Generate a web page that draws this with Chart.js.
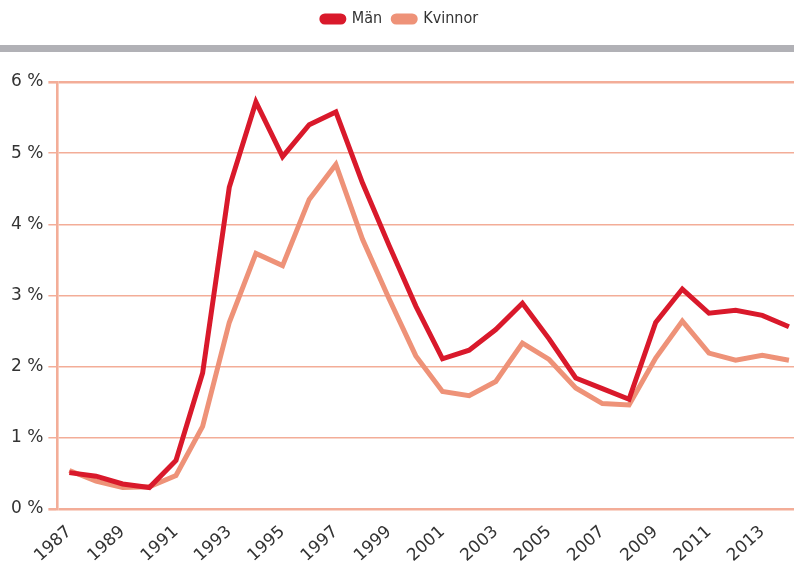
<!DOCTYPE html>
<html lang="sv">
<head>
<meta charset="utf-8">
<title>Män och kvinnor</title>
<script src="https://cdn.jsdelivr.net/npm/chart.js@4/dist/chart.umd.min.js"></script>
<style>
  html, body { margin: 0; padding: 0; background: #fff; }
  #chart { display: block; }
</style>
</head>
<body>
<canvas id="chart" width="794" height="567"></canvas>
<script>
// data
const years = [1987, 1988, 1989, 1990, 1991, 1992, 1993, 1994, 1995, 1996, 1997, 1998, 1999, 2000,
               2001, 2002, 2003, 2004, 2005, 2006, 2007, 2008, 2009, 2010, 2011, 2012, 2013, 2014];
const manValues = [0.51, 0.46, 0.35, 0.30, 0.68, 1.91, 4.52, 5.72, 4.95, 5.40, 5.58, 4.58, 3.70, 2.85,
                   2.11, 2.23, 2.52, 2.89, 2.39, 1.84, 1.69, 1.54, 2.62, 3.09, 2.75, 2.79, 2.72, 2.56];
const kvinnorValues = [0.54, 0.39, 0.30, 0.31, 0.47, 1.16, 2.62, 3.59, 3.42, 4.35, 4.84, 3.79, 2.95, 2.15,
                       1.65, 1.59, 1.79, 2.33, 2.10, 1.70, 1.48, 1.46, 2.12, 2.64, 2.19, 2.09, 2.16, 2.09];
const tickYears = [1987, 1989, 1991, 1993, 1995, 1997, 1999, 2001, 2003, 2005, 2007, 2009, 2011, 2013];

const red = '#d9192b';
const salmon = '#ee9278';
const gridColor = '#f3ad98';

function toPoints(vals) {
    return years.map((y, i) => ({ x: y, y: vals[i] }));
}

// grå list under förklaringen
const greyBar = {
    id: 'greyBar',
    beforeDraw(chart) {
        const ctx = chart.ctx;
        ctx.save();
        ctx.fillStyle = '#ffffff';
        ctx.fillRect(0, 0, chart.width, chart.height);
        ctx.fillStyle = '#b1b1b6';
        ctx.fillRect(0, 45, chart.width, 7);
        ctx.restore();
    }
};

// extra luft under förklaringen
const legendMargin = {
    id: 'legendMargin',
    beforeInit(chart) {
        const origFit = chart.legend.fit;
        chart.legend.fit = function fit() {
            origFit.bind(chart.legend)();
            this.height += 45;
        };
    }
};

new Chart(document.getElementById('chart'), {
    type: 'line',
    data: {
        datasets: [{
            label: 'Män',
            data: toPoints(manValues),
            borderColor: red,
            backgroundColor: red,
            borderWidth: 5,
            pointRadius: 0,
            tension: 0
        }, {
            label: 'Kvinnor',
            data: toPoints(kvinnorValues),
            borderColor: salmon,
            backgroundColor: salmon,
            borderWidth: 5,
            pointRadius: 0,
            tension: 0
        }]
    },
    options: {
        responsive: false,
        animation: false,
        layout: { padding: { top: 0, right: 0, bottom: 0, left: 6 } },
        plugins: {
            tooltip: { enabled: false },
            legend: {
                position: 'top',
                labels: {
                    boxWidth: 22,
                    boxHeight: 6,
                    useBorderRadius: true,
                    borderRadius: 3,
                    padding: 11,
                    color: '#333',
                    font: { family: "'DejaVu Sans Condensed', 'DejaVu Sans', sans-serif", size: 16 }
                }
            }
        },
        scales: {
            x: {
                type: 'linear',
                min: 1986.55,
                max: 2014.19,
                afterBuildTicks: (scale) => {
                    scale.ticks = tickYears.map(v => ({ value: v }));
                },
                afterFit: (scale) => {
                    scale.height -= 4;
                },
                grid: { display: false },
                border: { display: false },
                ticks: {
                    autoSkip: false,
                    maxRotation: 42,
                    minRotation: 42,
                    padding: 5,
                    color: '#333',
                    font: { family: "'DejaVu Sans', sans-serif", size: 17 },
                    callback: (v) => String(v)
                }
            },
            y: {
                min: 0,
                max: 6,
                ticks: {
                    stepSize: 1,
                    padding: 5,
                    color: '#333',
                    font: { family: "'DejaVu Sans', sans-serif", size: 17 },
                    callback: (v) => v + ' %'
                },
                grid: {
                    color: gridColor,
                    lineWidth: (c) => (c.tick && (c.tick.value === 0 || c.tick.value === 6)) ? 2.6 : 1.5,
                    tickLength: 9,
                    drawTicks: true
                },
                border: { display: true, color: gridColor, width: 2.6 }
            }
        }
    },
    plugins: [greyBar, legendMargin]
});
</script>
</body>
</html>
